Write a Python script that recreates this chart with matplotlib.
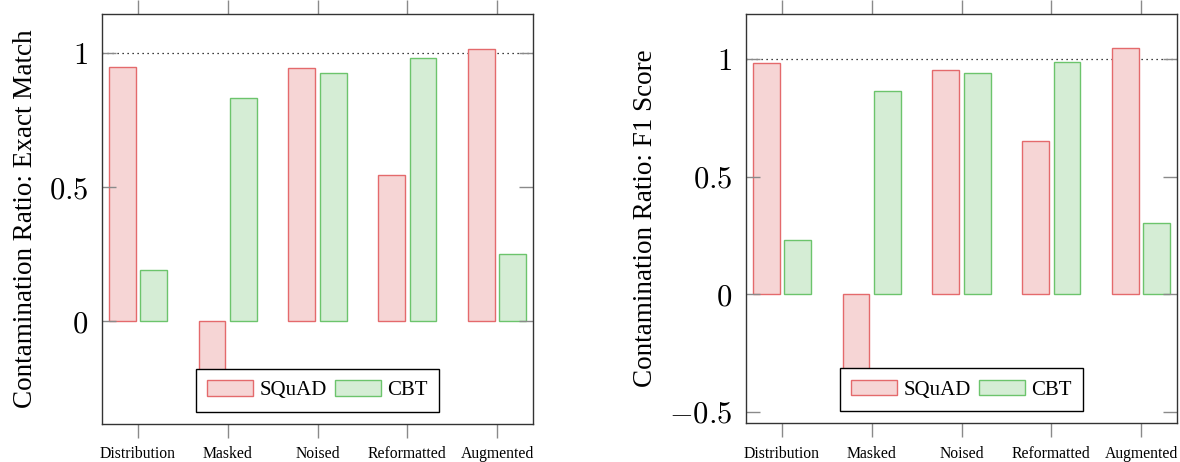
import numpy as np
import matplotlib
matplotlib.use("Agg")
import matplotlib.pyplot as plt
from matplotlib.patches import Patch

plt.rcParams["font.family"] = ["Liberation Serif", "DejaVu Serif"]
plt.rcParams["mathtext.fontset"] = "cm"

categories = ["Distribution", "Masked", "Noised", "Reformatted", "Augmented"]
series = ["SQuAD", "CBT"]

em_squad = [0.947, -0.28, 0.943, 0.545, 1.017]
em_cbt = [0.19, 0.831, 0.924, 0.981, 0.25]

f1_squad = [0.983, -0.45, 0.954, 0.652, 1.047]
f1_cbt = [0.231, 0.865, 0.940, 0.988, 0.303]

em_yticks = [0, 0.5, 1]
f1_yticks = [-0.5, 0, 0.5, 1]

SQUAD_FACE, SQUAD_EDGE = "#F6D5D5", "#E46A6C"
CBT_FACE, CBT_EDGE = "#D5EDD5", "#6CC46C"
TICK_GREY = "#8a8a8a"


def fmt_tick(v):
    return "$" + f"{v:g}" + "$"


def draw_panel(ax, squad, cbt, yticks, ylim, ylabel):
    x = np.arange(len(categories))
    w = 0.30
    ax.bar(x - 0.175, squad, w, color=SQUAD_FACE, edgecolor=SQUAD_EDGE, linewidth=1.0)
    ax.bar(x + 0.175, cbt, w, color=CBT_FACE, edgecolor=CBT_EDGE, linewidth=1.0)
    ax.axhline(1.0, color="black", linestyle=(0, (1, 3)), linewidth=0.9, zorder=0)

    ax.set_xlim(-0.4, 4.4)
    ax.set_ylim(*ylim)
    ax.set_xticks(x)
    ax.set_xticklabels(categories, fontsize=11.3)
    ax.set_yticks(yticks)
    ax.set_yticklabels([fmt_tick(v) for v in yticks], fontsize=22)
    ax.tick_params(axis="x", direction="out", top=True, bottom=True, length=10,
                   color=TICK_GREY, width=1.0, pad=6)
    ax.tick_params(axis="y", direction="in", left=True, right=True, length=10,
                   color=TICK_GREY, width=1.0, pad=10)
    ax.set_ylabel(ylabel, fontsize=19.5, labelpad=8)
    for s in ax.spines.values():
        s.set_color("#333333")
        s.set_linewidth(1.0)

    handles = [Patch(facecolor=SQUAD_FACE, edgecolor=SQUAD_EDGE, label=series[0]),
               Patch(facecolor=CBT_FACE, edgecolor=CBT_EDGE, label=series[1])]
    leg = ax.legend(handles=handles, loc="lower center", bbox_to_anchor=(0.5, 0.03),
                    ncol=2, fontsize=15, frameon=True, fancybox=False,
                    framealpha=1.0, edgecolor="black", handlelength=2.2,
                    handleheight=0.75, columnspacing=0.4, handletextpad=0.3,
                    borderpad=0.55, borderaxespad=0.0)
    leg.get_frame().set_linewidth(1.0)
    leg.set_zorder(5)


fig = plt.figure(figsize=(11.8, 4.62), dpi=100)
ax1 = fig.add_axes([102 / 1180, 38 / 462, 431 / 1180, 410 / 462])
ax2 = fig.add_axes([746 / 1180, 38.7 / 462, 431 / 1180, 409.3 / 462])

draw_panel(ax1, em_squad, em_cbt, em_yticks, (-0.384, 1.146),
           "Contamination Ratio: Exact Match")
draw_panel(ax2, f1_squad, f1_cbt, f1_yticks, (-0.549, 1.193),
           "Contamination Ratio: F1 Score")

fig.savefig("out.png", dpi=100)
